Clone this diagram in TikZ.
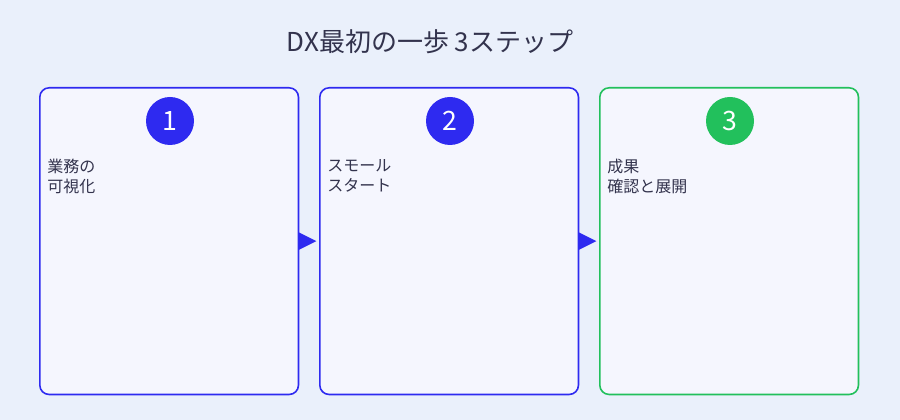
\documentclass[tikz,border=0pt]{standalone}
\usepackage{fontspec}
\setmainfont{Noto Sans CJK JP}
\usetikzlibrary{positioning}
\definecolor{bgblue}{HTML}{EAF0FB}
\definecolor{boxfill}{HTML}{F5F6FE}
\definecolor{stepblue}{HTML}{2E2AF0}
\definecolor{stepgreen}{HTML}{22C05C}
\definecolor{textdark}{HTML}{33334D}
\tikzset{
  stepbox/.style={draw=#1, fill=boxfill, line width=1.2pt, rounded corners=7pt,
    minimum width=194pt, minimum height=230pt, anchor=north west},
  stepnum/.style={circle, fill=#1, text=white, minimum size=36pt, inner sep=0pt,
    font=\fontsize{20}{20}\selectfont},
  steplabel/.style={anchor=north west, align=left, text=textdark, inner sep=0pt,
    font=\fontsize{12}{15}\selectfont},
  steparrow/.style={fill=stepblue}
}
\begin{document}
\begin{tikzpicture}[x=0.75pt, y=-0.75pt]
        \fill[bgblue] (0,0) rectangle (900,420);
        \useasboundingbox (0,0) rectangle (900,420);

        \node[text=textdark, font=\fontsize{19.5}{20}\selectfont] (title) at (430,42) {DX最初の一歩 3ステップ};

        % boxes
        \node[stepbox=stepblue] (box1) at (39,87) {};
        \node[stepbox=stepblue] (box2) at (319,87) {};
        \node[stepbox=stepgreen] (box3) at (599,87) {};

        % numbers
        \node[stepnum=stepblue] (num1) at (170,121) {1};
        \node[stepnum=stepblue] (num2) at (450,121) {2};
        \node[stepnum=stepgreen] (num3) at (730,121) {3};

        % labels
        \node[steplabel] (label1) at (47,159) {業務の\\可視化};
        \node[steplabel] (label2) at (327,159) {スモール\\スタート};
        \node[steplabel] (label3) at (607,159) {成果\\確認と展開};

        % arrow heads
        \fill[steparrow] (box1.east) ++(-1,-9) -- ++(18,9) -- ++(-18,9) -- cycle;
        \fill[steparrow] (box2.east) ++(-1,-9) -- ++(18,9) -- ++(-18,9) -- cycle;
    \end{tikzpicture}
\end{document}
